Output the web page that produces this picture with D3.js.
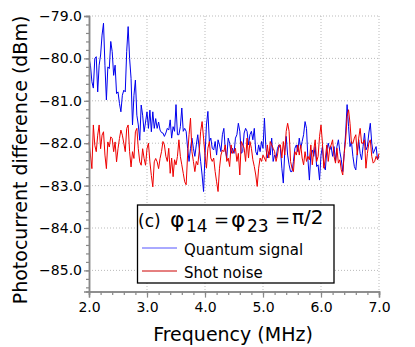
<!DOCTYPE html>
<html>
<head>
<meta charset="utf-8">
<script src="https://cdn.jsdelivr.net/npm/d3@7"></script>
<style>
html,body{margin:0;padding:0;background:#fff;}
svg{display:block;font-family:"DejaVu Sans",Verdana,sans-serif;}
</style>
</head>
<body>
<svg id="chart" width="415" height="347"></svg>
<script>
const freqStart = 2.0;
const freqStep = 0.025;
const quantumSignal = [
-80.0,-80.16,-80.55,-80.7,-80.0,-79.96,-80.79,-80.16,-79.92,-79.45,
-79.17,-80.16,-80.98,-80.2,-80.24,-79.6,-79.84,-80.4,-80.16,-80.83,
-80.79,-81.06,-81.26,-80.87,-80.75,-80.79,-79.84,-79.25,-80.0,-80.47,
-81.57,-80.87,-80.51,-81.34,-81.57,-81.93,-81.1,-81.34,-81.73,-81.5,
-81.26,-81.65,-81.22,-81.73,-81.26,-81.65,-81.42,-81.65,-81.5,-81.69,
-81.75,-81.76,-81.84,-81.76,-81.65,-81.69,-81.45,-81.88,-81.61,-81.72,
-81.09,-81.8,-81.8,-81.61,-81.17,-81.72,-81.65,-81.72,-82.12,-82.43,
-82.12,-81.88,-82.12,-82.31,-82.04,-81.8,-82.12,-82.43,-82.75,-83.14,
-82.28,-81.57,-81.25,-81.96,-81.88,-82.12,-82.16,-81.96,-82.28,-81.92,
-82.04,-82.2,-81.8,-81.65,-82.16,-82.35,-81.88,-82.0,-82.24,-82.12,
-82.24,-81.88,-81.8,-81.53,-81.72,-82.24,-82.2,-81.76,-81.65,-81.72,
-82.04,-81.8,-81.72,-81.92,-81.65,-82.2,-82.28,-82.04,-82.2,-81.96,
-82.12,-81.41,-82.12,-82.35,-82.2,-82.28,-81.88,-82.43,-82.28,-82.35,
-82.12,-82.04,-82.12,-82.59,-82.94,-82.2,-81.84,-82.28,-82.51,-82.67,
-82.67,-82.43,-82.12,-82.04,-82.2,-81.88,-82.12,-81.96,-81.8,-81.49,
-81.65,-82.39,-82.87,-82.24,-82.16,-82.31,-82.08,-82.55,-82.51,-82.87,
-82.28,-82.08,-82.55,-82.63,-82.16,-82.0,-82.16,-82.08,-82.31,-82.08,
-82.43,-82.08,-81.92,-82.2,-82.39,-82.67,-82.24,-81.76,-81.09,-81.61,
-82.08,-81.96,-82.31,-82.55,-82.63,-82.24,-81.92,-82.24,-82.39,-82.08,
-81.76,-82.16,-82.08,-81.76,-81.53,-82.0,-82.24,-82.16,-82.08,-82.39,
-82.31
];
const shotNoise = [
-81.97,-82.28,-82.6,-81.57,-82.05,-82.2,-81.81,-81.57,-82.13,-81.81,
-81.73,-82.28,-82.6,-81.97,-82.09,-81.85,-81.89,-82.2,-81.97,-82.44,
-82.13,-81.89,-81.69,-81.81,-82.0,-82.2,-81.65,-81.57,-82.2,-82.56,
-82.2,-82.36,-81.73,-81.65,-82.13,-82.44,-82.52,-82.13,-82.36,-82.52,
-82.13,-82.0,-82.44,-82.76,-83.03,-82.44,-82.36,-82.44,-82.6,-82.36,
-82.2,-81.96,-82.04,-82.31,-82.43,-82.12,-82.71,-82.35,-82.79,-82.39,
-82.51,-82.31,-81.92,-82.31,-82.51,-82.71,-82.91,-82.98,-82.28,-81.8,
-81.41,-82.2,-82.43,-82.67,-82.43,-82.51,-82.2,-81.72,-81.49,-81.88,
-82.28,-82.59,-82.12,-81.96,-82.35,-82.43,-82.35,-82.67,-82.91,-83.14,
-82.59,-82.28,-82.16,-82.2,-82.04,-82.43,-82.35,-82.55,-82.04,-82.24,
-82.2,-82.12,-82.43,-82.24,-82.75,-81.96,-82.04,-82.12,-82.43,-81.88,
-82.35,-81.96,-82.12,-82.39,-82.55,-82.75,-83.02,-82.59,-82.35,-82.43,
-82.28,-82.35,-82.43,-82.04,-82.35,-81.96,-82.04,-82.12,-82.2,-82.43,
-82.28,-82.04,-82.04,-82.35,-81.96,-82.28,-81.72,-81.53,-81.72,-82.43,
-82.59,-82.67,-82.2,-82.28,-82.04,-82.28,-82.04,-82.35,-82.51,-82.2,
-82.43,-82.31,-82.39,-82.04,-82.51,-82.16,-81.92,-82.43,-82.31,-81.84,
-81.57,-82.0,-82.59,-82.35,-82.04,-82.43,-82.12,-82.04,-81.92,-82.31,
-82.47,-82.12,-82.47,-82.39,-82.63,-82.75,-82.24,-81.92,-81.37,-81.21,
-81.53,-82.0,-82.0,-81.88,-81.8,-82.28,-81.88,-81.65,-82.0,-82.0,
-81.92,-82.59,-82.24,-82.0,-81.92,-82.31,-82.47,-82.43,-82.31,-82.39,
-82.24
];
const xTicks = [2.0, 3.0, 4.0, 5.0, 6.0, 7.0];
const yTicks = [-79.0, -80.0, -81.0, -82.0, -83.0, -84.0, -85.0];
const seriesNames = ["Quantum signal", "Shot noise"];
const seriesColors = ["#0000ee", "#ee0000"];
const legendColors = ["#5555ff", "#cc0000"];
const xLabel = "Frequency (MHz)";
const yLabel = "Photocurrent difference (dBm)";

const svg = d3.select("#chart");
const L = 89, R = 379, T = 16, B = 291.6;
const x = d3.scaleLinear().domain([2, 7]).range([L, R]);
const y = d3.scaleLinear().domain([-85.5, -79]).range([B, T]);
const fmt = d3.format(".1f");

// grid
const grid = svg.append("g");
grid.selectAll("line.h").data(yTicks).join("line")
  .attr("x1", L).attr("x2", R).attr("y1", d => y(d)).attr("y2", d => y(d))
  .attr("stroke", "#aaa").attr("stroke-width", 0.8).attr("stroke-dasharray", "1,2");
grid.selectAll("line.v").data(xTicks.slice(1)).join("line")
  .attr("y1", T).attr("y2", B).attr("x1", d => x(d)).attr("x2", d => x(d))
  .attr("stroke", "#aaa").attr("stroke-width", 0.8).attr("stroke-dasharray", "1,2");

// lines
const line = d3.line().x((d, i) => x(freqStart + i * freqStep)).y(d => y(d));
[quantumSignal, shotNoise].forEach((s, k) => {
  svg.append("path").datum(s).attr("d", line)
    .attr("fill", "none").attr("stroke", seriesColors[k]).attr("stroke-width", 1)
    .attr("stroke-linejoin", "round");
});

// axes
const minorX = d3.range(2, 7.0001, 0.2);
const minorY = d3.range(-85.4, -78.99, 0.2);
const xAxisMinor = d3.axisBottom(x).tickValues(minorX).tickSize(3.5).tickFormat("");
const xAxis = d3.axisBottom(x).tickValues(xTicks).tickSize(6).tickPadding(4).tickFormat(fmt);
const yAxisMinor = d3.axisLeft(y).tickValues(minorY).tickSize(3).tickFormat("");
const yAxis = d3.axisLeft(y).tickValues(yTicks).tickSize(5).tickPadding(2).tickFormat(fmt);

function style(g) {
  g.select(".domain").attr("stroke", "#888").attr("stroke-width", 1.5);
  g.selectAll(".tick line").attr("stroke", "#888").attr("stroke-width", 1.2);
  g.selectAll("text").attr("fill", "#000").style("font-size", "14px")
    .style("font-family", "'DejaVu Sans',Verdana,sans-serif");
}
svg.append("g").attr("transform", `translate(0,${B})`).call(xAxisMinor).call(style);
svg.append("g").attr("transform", `translate(0,${B})`).call(xAxis).call(style);
svg.append("g").attr("transform", `translate(${L},0)`).call(yAxisMinor).call(style);
svg.append("g").attr("transform", `translate(${L},0)`).call(yAxis).call(style);

// axis titles
svg.append("text").attr("x", 233).attr("y", 341).attr("text-anchor", "middle")
  .style("font-size", "19px").attr("fill", "#000").text(xLabel);
svg.append("text").attr("transform", `translate(27,160) rotate(-90)`)
  .attr("text-anchor", "middle").style("font-size", "19px").attr("fill", "#000").text(yLabel);

// legend
const lg = svg.append("g");
lg.append("rect").attr("x", 137.5).attr("y", 205).attr("width", 196.5).attr("height", 78)
  .attr("fill", "#fff").attr("stroke", "#000").attr("stroke-width", 1.3);
const title = lg.append("text").attr("fill", "#000");
title.append("tspan").attr("x", 138).attr("y", 227).style("font-size", "17px").text("(c)");
title.append("tspan").attr("x", 170).attr("y", 227).style("font-size", "22px").text("φ");
title.append("tspan").attr("x", 186).attr("y", 232).style("font-size", "17px").text("14");
title.append("tspan").attr("x", 214).attr("y", 226).style("font-size", "18px").text("=");
title.append("tspan").attr("x", 231).attr("y", 227).style("font-size", "22px").text("φ");
title.append("tspan").attr("x", 247).attr("y", 232).style("font-size", "17px").text("23");
title.append("tspan").attr("x", 275).attr("y", 226).style("font-size", "18px").text("=");
title.append("tspan").attr("x", 292).attr("y", 224).style("font-size", "20px").text("π/2");
seriesNames.forEach((n, k) => {
  const yy = 248 + k * 23;
  lg.append("line").attr("x1", 142).attr("x2", 177).attr("y1", yy).attr("y2", yy)
    .attr("stroke", legendColors[k]).attr("stroke-width", 1);
  lg.append("text").attr("x", 184).attr("y", yy + 7).style("font-size", "15px")
    .attr("fill", "#000").text(n);
});
</script>
</body>
</html>
